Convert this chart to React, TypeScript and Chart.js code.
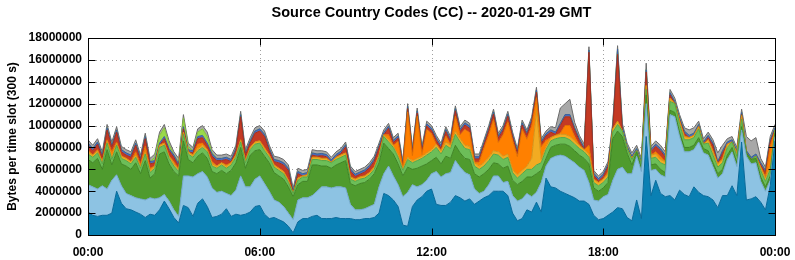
import React, { useEffect, useRef } from "react";
import { Chart, registerables } from "chart.js";
Chart.register(...registerables);

const chartTitle = "Source Country Codes (CC) -- 2020-01-29 GMT";
const yAxisTitle = "Bytes per time slot (300 s)";
const xTickLabels = ["00:00", "06:00", "12:00", "18:00", "00:00"];

// minutes since 00:00 GMT
const times = [
  0, 10, 20, 30, 40, 50, 60, 70, 80, 90, 100, 110, 120, 130, 140, 150, 160, 170, 180, 190, 200, 210, 220, 230, 240,
  250, 260, 270, 280, 290, 300, 310, 320, 330, 340, 350, 360, 370, 380, 390, 400, 410, 420, 430, 440, 450, 460, 470, 480,
  490, 500, 510, 520, 530, 540, 550, 560, 570, 580, 590, 600, 610, 620, 630, 640, 650, 660, 670, 680, 690, 700, 710, 720,
  730, 740, 750, 760, 770, 780, 790, 800, 810, 820, 830, 840, 850, 860, 870, 880, 890, 900, 910, 920, 930, 940, 950, 960,
  970, 980, 990, 1000, 1010, 1020, 1030, 1040, 1050, 1060, 1070, 1080, 1090, 1100, 1110, 1120, 1130, 1140, 1150, 1160, 1170, 1180, 1190, 1200,
  1210, 1220, 1230, 1240, 1250, 1260, 1270, 1280, 1290, 1300, 1310, 1320, 1330, 1340, 1350, 1360, 1370, 1380, 1390, 1400, 1410, 1420, 1430, 1440,
];

// all values in millions of bytes per slot
// total height of the stack
const total = [
  8.7, 8.2, 8.8, 7.6, 10.1, 8.5, 9.9, 8.1, 7.8, 7.6, 8.7, 7.3, 9.3, 7.0, 7.4, 9.4, 10.1, 8.6, 7.6, 7.0, 11.0, 8.4, 8.0, 9.7, 10.0,
  9.4, 7.8, 7.3, 7.3, 7.4, 7.2, 8.2, 11.3, 7.8, 8.9, 9.8, 10.0, 9.5, 8.2, 7.2, 7.1, 6.9, 6.4, 4.3, 6.1, 5.9, 6.0, 7.8, 7.7,
  7.7, 7.6, 7.1, 7.6, 7.9, 8.5, 6.3, 5.8, 6.0, 6.2, 6.6, 7.2, 8.4, 9.6, 10.2, 8.9, 9.3, 6.8, 12.0, 8.0, 11.6, 8.1, 10.4, 10.0,
  9.1, 8.4, 9.9, 9.0, 11.8, 9.9, 10.5, 10.2, 7.4, 7.4, 8.7, 10.0, 11.5, 9.3, 10.0, 11.3, 9.4, 7.9, 10.5, 9.6, 10.8, 13.5, 8.8, 9.5,
  9.9, 9.8, 11.6, 12.0, 12.4, 10.3, 9.1, 8.3, 17.2, 5.9, 5.4, 5.8, 6.7, 10.3, 17.3, 10.2, 8.4, 7.5, 8.2, 7.0, 15.7, 8.1, 8.6, 8.2,
  7.6, 13.3, 12.5, 11.0, 9.8, 9.6, 9.8, 10.4, 8.8, 9.4, 8.7, 7.5, 8.2, 8.8, 9.0, 8.0, 11.5, 9.0, 8.6, 8.9, 7.0, 6.2, 9.0, 10.1,
];

// cumulative upper edge of the first three layers
const darkBlueTop = [
  2.1, 1.8, 1.7, 1.8, 1.8, 2.0, 4.0, 2.9, 2.4, 2.3, 2.1, 1.9, 1.6, 1.9, 1.8, 2.3, 3.1, 2.4, 1.6, 1.1, 2.7, 2.5, 1.7, 2.9, 3.3,
  2.6, 1.6, 1.7, 1.9, 2.4, 1.7, 1.9, 1.8, 1.9, 2.1, 2.6, 2.7, 1.9, 1.5, 1.6, 1.4, 1.2, 0.8, 0.2, 1.2, 1.5, 1.5, 1.7, 1.8,
  1.5, 1.5, 1.5, 1.6, 1.5, 1.5, 1.5, 1.4, 1.4, 1.5, 1.5, 1.6, 2.0, 3.8, 3.6, 3.2, 2.6, 0.9, 0.8, 2.6, 3.2, 3.5, 4.0, 4.2,
  2.8, 2.7, 2.7, 3.0, 3.6, 3.4, 3.1, 3.3, 2.8, 3.1, 3.4, 3.6, 4.0, 4.0, 4.0, 3.6, 2.0, 1.3, 1.5, 2.3, 2.1, 3.0, 2.1, 5.2,
  4.4, 4.3, 4.0, 3.8, 3.6, 3.4, 3.1, 3.1, 2.8, 1.8, 1.4, 1.5, 1.8, 2.1, 2.5, 2.4, 1.6, 1.3, 3.2, 1.5, 9.0, 3.6, 5.0, 3.8,
  3.5, 3.6, 3.2, 4.1, 3.7, 3.5, 4.4, 3.9, 3.6, 3.5, 3.2, 2.5, 3.6, 3.6, 4.5, 3.6, 8.5, 3.2, 3.3, 3.5, 3.0, 2.3, 4.5, 8.6,
];
const lightBlueTop = [
  4.6, 4.4, 4.2, 4.5, 4.2, 5.0, 5.5, 4.5, 3.8, 3.6, 3.4, 3.3, 3.2, 3.4, 3.3, 3.4, 3.7, 3.1, 2.3, 1.7, 5.4, 5.4, 5.3, 5.6, 5.8,
  5.3, 4.3, 3.9, 4.0, 3.8, 3.6, 4.1, 5.4, 4.4, 4.4, 5.1, 5.4, 4.7, 4.0, 3.2, 3.0, 2.6, 2.0, 1.4, 3.2, 3.4, 3.4, 3.6, 4.0,
  4.4, 4.4, 4.3, 4.4, 4.4, 4.3, 2.8, 2.3, 2.3, 2.4, 2.6, 2.8, 4.4, 5.6, 6.3, 5.4, 4.6, 3.5, 3.9, 4.6, 4.4, 4.6, 5.0, 5.6,
  5.8, 5.3, 5.6, 5.7, 6.8, 6.2, 5.7, 5.5, 4.2, 3.8, 4.0, 4.6, 5.4, 5.4, 4.8, 4.9, 3.6, 3.1, 3.3, 3.8, 3.5, 3.9, 4.8, 6.3,
  7.0, 7.2, 7.3, 7.2, 6.9, 6.6, 6.2, 5.9, 4.8, 3.2, 3.1, 3.5, 3.7, 5.0, 6.0, 6.2, 5.6, 5.6, 7.2, 5.8, 12.0, 5.9, 6.0, 5.5,
  5.3, 11.0, 10.8, 9.0, 7.6, 7.6, 7.8, 8.5, 7.5, 7.3, 6.25, 5.2, 5.6, 6.9, 7.6, 6.25, 9.6, 7.2, 6.5, 6.6, 4.9, 4.0, 5.0, 9.0,
];
const greenTop = [
  6.9, 6.6, 7.0, 6.0, 7.8, 6.4, 7.6, 6.5, 6.3, 6.0, 6.6, 5.6, 6.8, 5.2, 5.6, 7.4, 7.6, 6.5, 5.8, 5.4, 8.6, 6.9, 6.6, 7.2, 7.5,
  7.0, 5.8, 5.6, 5.9, 5.6, 5.9, 6.6, 8.0, 6.1, 7.3, 7.7, 7.8, 7.2, 6.6, 5.7, 5.4, 5.1, 4.4, 3.5, 4.6, 4.9, 4.9, 6.4, 6.4,
  6.3, 6.3, 6.1, 6.4, 6.6, 6.8, 4.7, 4.5, 4.7, 4.8, 5.1, 5.6, 6.6, 8.4, 7.9, 7.4, 6.5, 5.4, 6.2, 6.0, 6.1, 6.3, 6.5, 6.8,
  7.1, 6.5, 7.2, 7.0, 8.2, 7.5, 7.0, 6.9, 5.6, 5.3, 5.6, 6.0, 6.6, 6.5, 6.1, 6.3, 5.0, 4.6, 4.9, 5.3, 5.3, 5.6, 5.9, 7.0,
  8.0, 8.2, 8.3, 8.3, 8.1, 7.7, 7.3, 7.0, 6.5, 4.3, 4.0, 4.3, 4.8, 8.8, 9.5, 9.0, 7.5, 6.4, 7.6, 6.1, 12.8, 6.4, 6.5, 6.0,
  5.7, 11.4, 11.2, 9.4, 8.0, 8.0, 8.2, 8.9, 7.9, 7.7, 6.6, 5.6, 6.0, 7.3, 8.0, 6.6, 9.9, 7.6, 6.9, 7.0, 5.3, 4.4, 5.4, 9.3,
];

// thickness of the thinner layers (orange is what is left between yellow and red)
const lightGreen = [
  0.5, 0.5, 0.5, 0.5, 0.6, 0.5, 0.6, 0.5, 0.5, 0.5, 0.5, 0.5, 0.6, 0.5, 0.5, 0.6, 0.6, 0.5, 0.5, 0.4, 0.6, 0.5, 0.5, 0.5, 0.5,
  0.6, 0.5, 0.5, 0.5, 0.5, 0.5, 0.5, 0.5, 0.5, 0.5, 0.6, 0.6, 0.5, 0.5, 0.5, 0.5, 0.5, 0.4, 0.3, 0.4, 0.4, 0.4, 0.5, 0.5,
  0.5, 0.5, 0.5, 0.5, 0.5, 0.5, 0.4, 0.4, 0.4, 0.4, 0.4, 0.4, 0.5, 0.6, 0.6, 0.6, 0.6, 0.5, 0.7, 0.6, 0.7, 0.7, 0.8, 0.8,
  0.9, 0.9, 1.0, 0.9, 1.0, 1.0, 0.9, 0.9, 0.7, 0.7, 0.7, 0.8, 0.8, 0.8, 0.8, 0.8, 0.7, 0.6, 0.7, 0.7, 0.7, 0.8, 0.7, 0.8,
  0.6, 0.6, 0.6, 0.6, 0.6, 0.6, 0.6, 0.6, 0.6, 0.5, 0.5, 0.5, 0.5, 0.6, 0.6, 0.6, 0.6, 0.5, 0.6, 0.5, 0.5, 0.6, 0.6, 0.6,
  0.7, 0.8, 0.8, 0.7, 0.7, 0.7, 0.7, 0.8, 0.7, 0.7, 0.7, 0.6, 0.6, 0.7, 0.7, 0.6, 0.7, 0.7, 0.7, 0.7, 0.6, 0.5, 0.6, 0.3,
];
const yellow = [
  0.2, 0.2, 0.2, 0.2, 0.2, 0.2, 0.2, 0.2, 0.2, 0.2, 0.2, 0.2, 0.2, 0.2, 0.2, 0.2, 0.2, 0.2, 0.2, 0.2, 0.2, 0.2, 0.2, 0.2, 0.2,
  0.2, 0.2, 0.2, 0.2, 0.2, 0.2, 0.2, 0.2, 0.2, 0.2, 0.2, 0.2, 0.2, 0.2, 0.2, 0.2, 0.2, 0.2, 0.2, 0.2, 0.2, 0.2, 0.2, 0.2,
  0.2, 0.2, 0.2, 0.2, 0.2, 0.2, 0.2, 0.2, 0.2, 0.2, 0.2, 0.2, 0.2, 0.2, 0.2, 0.2, 0.2, 0.2, 0.2, 0.2, 0.2, 0.2, 0.2, 0.2,
  0.3, 0.3, 0.3, 0.3, 0.3, 0.3, 0.3, 0.3, 0.3, 0.3, 0.3, 0.3, 0.3, 0.3, 0.3, 0.3, 0.3, 0.3, 0.3, 0.3, 1.0, 5.0, 0.3, 0.3,
  0.3, 0.3, 0.3, 0.3, 0.3, 0.3, 0.3, 0.3, 0.3, 0.3, 0.3, 0.3, 0.3, 0.3, 0.3, 0.3, 0.3, 0.3, 0.3, 0.3, 0.3, 0.3, 0.3, 0.3,
  0.3, 0.3, 0.3, 0.3, 0.3, 0.3, 0.3, 0.3, 0.3, 0.3, 0.3, 0.3, 0.3, 0.3, 0.3, 0.3, 0.3, 0.3, 0.3, 0.3, 0.3, 0.3, 0.3, 0.3,
];
const red = [
  0.4, 0.4, 0.5, 0.4, 0.9, 0.4, 0.9, 0.4, 0.4, 0.4, 0.6, 0.4, 0.7, 0.4, 0.4, 0.5, 0.5, 0.5, 0.4, 0.4, 0.5, 0.4, 0.4, 0.5, 0.5,
  0.5, 0.5, 0.5, 0.5, 0.5, 0.4, 0.6, 2.2, 0.5, 0.7, 1.0, 1.0, 1.0, 0.8, 0.8, 0.9, 0.9, 1.0, 0.5, 0.5, 0.5, 0.5, 0.6, 0.6,
  0.5, 0.5, 0.5, 0.5, 0.5, 0.6, 0.5, 0.5, 0.5, 0.5, 0.5, 0.5, 0.6, 0.5, 0.6, 0.4, 0.3, 0.2, 0.3, 0.3, 0.3, 0.3, 0.3, 0.3,
  0.4, 0.3, 0.4, 0.3, 0.5, 0.3, 0.4, 0.4, 0.3, 0.3, 0.3, 0.4, 0.5, 0.4, 0.4, 0.5, 0.3, 0.3, 0.4, 0.4, 0.4, 0.5, 0.3, 0.4,
  0.6, 0.6, 0.7, 0.8, 0.8, 0.6, 0.6, 0.5, 8.5, 0.4, 0.4, 0.4, 0.5, 0.4, 6.5, 0.6, 0.5, 0.4, 0.4, 0.3, 1.2, 0.4, 0.5, 0.5,
  0.4, 0.6, 0.6, 0.5, 0.5, 0.5, 0.5, 0.6, 0.5, 0.5, 0.5, 0.4, 0.5, 0.5, 0.5, 0.4, 0.5, 0.4, 0.4, 0.4, 0.4, 0.4, 0.4, 0.4,
];
const blue = [
  0.2, 0.2, 0.2, 0.2, 0.2, 0.2, 0.2, 0.2, 0.2, 0.2, 0.2, 0.2, 0.2, 0.2, 0.2, 0.2, 0.2, 0.2, 0.2, 0.2, 0.2, 0.2, 0.2, 0.2, 0.2,
  0.2, 0.2, 0.2, 0.2, 0.2, 0.2, 0.2, 0.2, 0.2, 0.2, 0.2, 0.2, 0.2, 0.2, 0.2, 0.2, 0.2, 0.2, 0.2, 0.2, 0.2, 0.2, 0.2, 0.2,
  0.2, 0.2, 0.2, 0.2, 0.2, 0.2, 0.2, 0.2, 0.2, 0.2, 0.2, 0.2, 0.2, 0.2, 0.2, 0.2, 0.2, 0.2, 0.2, 0.2, 0.2, 0.2, 0.2, 0.2,
  0.2, 0.2, 0.2, 0.2, 0.2, 0.2, 0.2, 0.2, 0.2, 0.2, 0.2, 0.2, 0.2, 0.2, 0.2, 0.2, 0.2, 0.2, 0.2, 0.2, 0.2, 0.2, 0.2, 0.2,
  0.2, 0.2, 0.2, 0.2, 0.2, 0.2, 0.2, 0.2, 0.2, 0.2, 0.2, 0.2, 0.2, 0.3, 0.5, 0.4, 0.2, 0.2, 0.2, 0.2, 0.2, 0.2, 0.2, 0.2,
  0.2, 0.2, 0.2, 0.2, 0.2, 0.2, 0.2, 0.2, 0.2, 0.2, 0.2, 0.2, 0.2, 0.2, 0.2, 0.2, 0.2, 0.2, 0.2, 0.2, 0.2, 0.2, 0.2, 0.2,
];
const lime = [
  0, 0, 0, 0, 0, 0, 0, 0, 0, 0, 0, 0, 0, 0, 0.3, 0.7, 0.8, 0.4, 0, 0.2, 0.8, 0.3, 0, 0.4, 0.6,
  0.6, 0.1, 0, 0, 0, 0, 0, 0, 0, 0, 0, 0, 0, 0, 0, 0, 0, 0, 0, 0, 0, 0, 0, 0,
  0, 0, 0, 0, 0, 0, 0, 0, 0, 0, 0, 0, 0, 0, 0, 0, 0, 0, 0, 0, 0, 0, 0, 0,
  0, 0, 0, 0, 0, 0, 0, 0, 0, 0, 0, 0, 0, 0, 0, 0, 0, 0, 0, 0, 0, 0, 0, 0,
  0, 0, 0, 0, 0, 0, 0, 0, 0, 0, 0, 0, 0, 0, 0, 0, 0, 0, 0, 0, 0, 0, 0, 0,
  0, 0, 0, 0, 0, 0, 0, 0, 0, 0, 0, 0, 0, 0, 0, 0, 0, 0, 0, 0, 0, 0, 0, 0,
];
const gray = [
  0.3, 0.3, 0.3, 0.3, 0.3, 0.3, 0.3, 0.3, 0.3, 0.3, 0.3, 0.3, 0.3, 0.3, 0.3, 0.3, 0.3, 0.3, 0.3, 0.3, 0.3, 0.3, 0.3, 0.3, 0.3,
  0.4, 0.3, 0.3, 0.3, 0.3, 0.3, 0.3, 0.3, 0.3, 0.3, 0.3, 0.3, 0.3, 0.3, 0.3, 0.3, 0.3, 0.3, 0.3, 0.3, 0.3, 0.3, 0.3, 0.3,
  0.25, 0.25, 0.25, 0.25, 0.25, 0.25, 0.25, 0.25, 0.25, 0.25, 0.25, 0.25, 0.25, 0.25, 0.25, 0.25, 0.25, 0.25, 0.25, 0.25, 0.25, 0.25, 0.25, 0.25,
  0.25, 0.25, 0.25, 0.25, 0.25, 0.25, 0.25, 0.25, 0.25, 0.25, 0.25, 0.25, 0.25, 0.25, 0.25, 0.25, 0.25, 0.25, 0.25, 0.25, 0.25, 0.25, 0.25, 0.25,
  0.3, 0.4, 1.4, 1.0, 1.4, 0.5, 0.3, 0.3, 0.3, 0.25, 0.25, 0.25, 0.25, 0.3, 0.3, 0.3, 0.3, 0.3, 0.3, 0.3, 0.6, 0.3, 0.3, 0.3,
  0.3, 0.3, 0.3, 0.3, 0.3, 0.5, 0.5, 0.3, 0.3, 0.3, 0.3, 0.8, 0.5, 0.3, 0.3, 0.3, 0.3, 1.3, 1.5, 1.5, 0.4, 0.3, 0.3, 0.3,
];

const layerStyles = [
  { name: "dark blue", fill: "#0a80b3", line: "#07699a" },
  { name: "light blue", fill: "#8dc3e3", line: "#72a8c9" },
  { name: "green", fill: "#4f9b2e", line: "#3e8424" },
  { name: "light green", fill: "#6cbe58", line: "#57a545" },
  { name: "yellow", fill: "#f2ab22", line: "#d39318" },
  { name: "orange", fill: "#ff8000", line: "#e06f00" },
  { name: "red", fill: "#c43a24", line: "#a52f1b" },
  { name: "blue", fill: "#4a6fbe", line: "#3a5ba2" },
  { name: "lime", fill: "#9ad94a", line: "#84bf3a" },
  { name: "gray", fill: "#a8a8a8", line: "#6a6a6a" },
];

const M = 1000000;

function buildLayerTops(): number[][] {
  const tops: number[][] = layerStyles.map(() => []);
  for (let i = 0; i < times.length; i++) {
    const t = total[i];
    const grayBottom = t - gray[i];
    const limeBottom = grayBottom - lime[i];
    const blueBottom = limeBottom - blue[i];
    const y1 = Math.min(darkBlueTop[i], blueBottom);
    const y2 = Math.min(Math.max(lightBlueTop[i], y1), blueBottom);
    const y3 = Math.min(Math.max(greenTop[i], y2), blueBottom);
    const y4 = Math.min(y3 + lightGreen[i], blueBottom);
    const y5 = Math.min(y4 + yellow[i], blueBottom);
    const redBottom = Math.max(blueBottom - red[i], y5);
    const vals = [y1, y2, y3, y4, y5, redBottom, blueBottom, limeBottom, grayBottom, t];
    vals.forEach((v, k) => tops[k].push(v * M));
  }
  return tops;
}

const FONT = "'Liberation Sans', Arial, Helvetica, sans-serif";

const framePlugin = {
  id: "gnuplotFrame",
  beforeDatasetsDraw(chart: any) {
    const { ctx, chartArea: a, scales } = chart;
    const x = scales.x, y = scales.y;
    ctx.save();
    ctx.strokeStyle = "#a0a0a0";
    ctx.lineWidth = 1;
    ctx.setLineDash([1, 3]);
    y.ticks.forEach((tk: any) => {
      if (tk.value <= 0 || tk.value >= 18 * M) return;
      const py = Math.round(y.getPixelForValue(tk.value)) + 0.5;
      ctx.beginPath();
      ctx.moveTo(a.left, py);
      ctx.lineTo(a.right, py);
      ctx.stroke();
    });
    x.ticks.forEach((tk: any) => {
      if (tk.value <= 0 || tk.value >= 1440) return;
      const px = Math.round(x.getPixelForValue(tk.value)) + 0.5;
      ctx.beginPath();
      ctx.moveTo(px, a.top);
      ctx.lineTo(px, a.bottom);
      ctx.stroke();
    });
    ctx.restore();
  },
  afterDatasetsDraw(chart: any) {
    const { ctx, chartArea: a, scales } = chart;
    const x = scales.x, y = scales.y;
    ctx.save();
    ctx.strokeStyle = "#000";
    ctx.lineWidth = 1;
    ctx.setLineDash([]);
    const L = Math.round(a.left) + 0.5, R = Math.round(a.right) + 0.5;
    const T = Math.round(a.top) + 0.5, B = Math.round(a.bottom) + 0.5;
    ctx.beginPath();
    y.ticks.forEach((tk: any) => {
      const py = Math.round(y.getPixelForValue(tk.value)) + 0.5;
      ctx.moveTo(L, py); ctx.lineTo(L + 7, py);
      ctx.moveTo(R, py); ctx.lineTo(R - 7, py);
    });
    x.ticks.forEach((tk: any) => {
      const px = Math.round(x.getPixelForValue(tk.value)) + 0.5;
      ctx.moveTo(px, T); ctx.lineTo(px, T + 7);
      ctx.moveTo(px, B); ctx.lineTo(px, B - 7);
    });
    ctx.stroke();
    ctx.strokeRect(L, T, R - L, B - T);
    ctx.restore();
  },
  afterDraw(chart: any) {
    const { ctx, chartArea: a } = chart;
    ctx.save();
    ctx.fillStyle = "#000";
    ctx.textAlign = "center";
    ctx.textBaseline = "middle";
    ctx.font = `bold 14.5px ${FONT}`;
    ctx.fillText(chartTitle, (a.left + a.right) / 2, 13);
    ctx.font = `bold 12px ${FONT}`;
    ctx.translate(13, (a.top + a.bottom) / 2);
    ctx.rotate(-Math.PI / 2);
    ctx.fillText(yAxisTitle, 0, 0);
    ctx.restore();
  },
};

export default function App() {
  const ref = useRef<HTMLCanvasElement | null>(null);
  useEffect(() => {
    if (!ref.current) return;
    const tops = buildLayerTops();
    const datasets = layerStyles.map((s, k) => ({
      label: s.name,
      data: times.map((t, i) => ({ x: t, y: tops[k][i] })),
      backgroundColor: s.fill,
      borderColor: s.line,
      borderWidth: 1,
      pointRadius: 0,
      tension: 0,
      fill: k === 0 ? "origin" : "-1",
    }));
    const chart = new Chart(ref.current, {
      type: "line",
      data: { datasets },
      plugins: [framePlugin],
      options: {
        animation: false,
        responsive: true,
        maintainAspectRatio: false,
        devicePixelRatio: 1,
        layout: { padding: { top: 38, right: 20, left: 0, bottom: 0 } },
        plugins: { legend: { display: false }, tooltip: { enabled: false }, title: { display: false } },
        scales: {
          x: {
            type: "linear",
            min: 0,
            max: 1440,
            grid: { display: false, drawTicks: false },
            border: { display: false },
            ticks: {
              stepSize: 360,
              autoSkip: false,
              maxRotation: 0,
              padding: 10,
              color: "#000",
              font: { family: FONT, size: 12, weight: "bold" },
              callback: (_v: any, idx: number) => xTickLabels[idx],
            },
            afterFit: (scale: any) => {
              scale.height = 25;
              scale.paddingLeft = 0;
              scale.paddingRight = 0;
            },
          },
          y: {
            type: "linear",
            min: 0,
            max: 18 * M,
            grid: { display: false, drawTicks: false },
            border: { display: false },
            ticks: {
              stepSize: 2 * M,
              padding: 6,
              color: "#000",
              font: { family: FONT, size: 12, weight: "bold" },
              callback: (v: any) => String(v),
            },
            afterFit: (scale: any) => { scale.width = 88; },
          },
        },
      } as any,
    });
    return () => chart.destroy();
  }, []);
  return (
    <div style={{ position: "fixed", left: 0, top: 0, width: 795, height: 260, background: "#fff" }}>
      <canvas ref={ref} />
    </div>
  );
}
